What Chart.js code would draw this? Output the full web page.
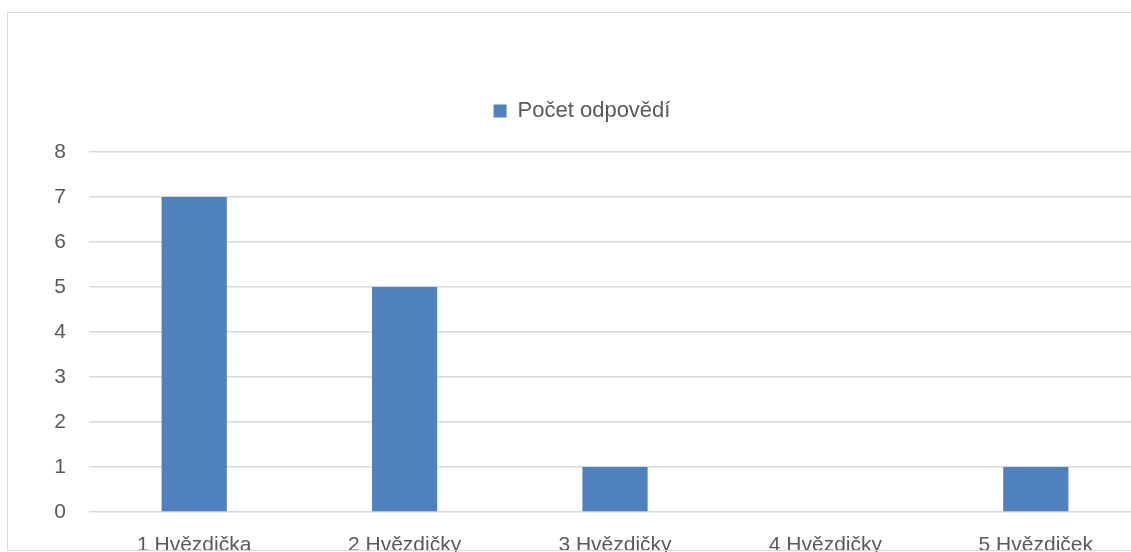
<!DOCTYPE html>
<html>
<head>
<meta charset="utf-8">
<script src="https://cdn.jsdelivr.net/npm/chart.js@4/dist/chart.umd.min.js"></script>
<style>
  html, body { margin: 0; padding: 0; background: #fff; overflow: hidden; width: 1131px; height: 552px; }
  #wrap { position: absolute; left: 23px; top: 0; width: 1118px; height: 560px; }
  #frame { position: absolute; left: 7px; top: 12px; width: 1300px; height: 537px; border: 1px solid #d9d9d9; pointer-events: none; z-index: 2; }
</style>
</head>
<body>
<div id="frame"></div>
<div id="wrap"><canvas id="c" width="1118" height="560"></canvas></div>
<script>
const categories = ["1 Hvězdička", "2 Hvězdičky", "3 Hvězdičky", "4 Hvězdičky", "5 Hvězdiček"];
const seriesName = "Počet odpovědí";
const counts = [7, 5, 1, 0, 1];
const yTicks = [0, 1, 2, 3, 4, 5, 6, 7, 8];

const FONT = "'Liberation Sans', Arial, sans-serif";
const TXT = "#595959";

const legendSpacer = {
  id: 'legendSpacer',
  afterInit(chart) {
    const lg = chart.legend;
    if (lg && !lg._spaced) {
      const orig = lg.fit.bind(lg);
      lg.fit = function () { orig(); this.height += 20; };
      lg._spaced = true;
    }
  }
};

new Chart(document.getElementById('c'), {
  type: 'bar',
  data: {
    labels: categories,
    datasets: [{
      label: seriesName,
      data: counts,
      backgroundColor: '#4F81BD',
      borderWidth: 0,
      barPercentage: 0.31,
      categoryPercentage: 1
    }]
  },
  options: {
    responsive: false,
    animation: false,
    layout: { padding: { top: 90, left: 0, right: 0, bottom: 0 } },
    plugins: {
      tooltip: { enabled: false },
      legend: {
        display: true,
        position: 'top',
        labels: {
          boxWidth: 13,
          boxHeight: 13,
          padding: 10,
          color: TXT,
          font: { family: FONT, size: 22 }
        }
      }
    },
    scales: {
      x: {
        grid: { display: false },
        border: { display: false },
        ticks: { color: TXT, font: { family: FONT, size: 21 }, padding: 13, maxRotation: 0, autoSkip: false },
        afterFit(s) { s.height = 48; }
      },
      y: {
        min: yTicks[0],
        max: yTicks[yTicks.length - 1],
        grid: { color: '#d9d9d9', lineWidth: 1.5, drawTicks: false },
        border: { display: false },
        afterBuildTicks(s) { s.ticks = yTicks.map(v => ({ value: v })); },
        ticks: { color: TXT, font: { family: FONT, size: 21 }, padding: 23 },
        afterFit(s) { s.width = 66; }
      }
    }
  },
  plugins: [legendSpacer]
});
</script>
</body>
</html>
